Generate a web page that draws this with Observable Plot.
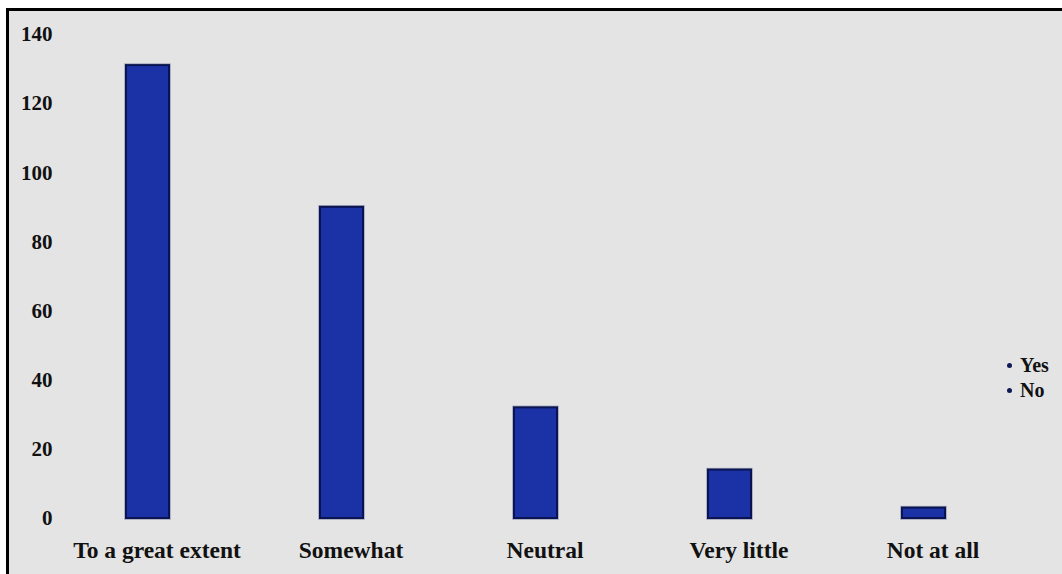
<!DOCTYPE html>
<html>
<head>
<meta charset="utf-8">
<script src="https://cdn.jsdelivr.net/npm/d3@7"></script>
<script src="https://cdn.jsdelivr.net/npm/@observablehq/plot@0.6"></script>
<style>
  html, body { margin: 0; padding: 0; background: #ffffff; }
  #panel {
    position: absolute; left: 6px; top: 8px;
    width: 1053px; height: 563px;
    background: #e4e4e4;
    border-left: 3px solid #000;
    border-top: 3px solid #000;
    overflow: hidden;
  }
  #panel svg { position: absolute; left: 0; top: 0; background: transparent; }
  .legend {
    position: absolute; left: 998px; top: 342px;
    font-family: "Liberation Serif", "Times New Roman", serif;
    font-weight: bold; font-size: 20px; color: #111;
    line-height: 25px;
  }
  .legend .item { display: flex; align-items: center; }
  .legend .dot {
    display: inline-block; width: 5px; height: 5px; border-radius: 50%;
    background: #0d1a55; margin-right: 8px;
  }
</style>
</head>
<body>
<div id="panel"></div>
<script>
// Responses per category
const categories = ["To a great extent", "Somewhat", "Neutral", "Very little", "Not at all"];
const counts = [131, 90, 32, 14, 3];
const seriesNames = ["Yes", "No"];
const yTicks = [0, 20, 40, 60, 80, 100, 120, 140];

const rows = categories.map((c, i) => ({category: c, count: counts[i]}));

const serif = "'Liberation Serif', 'Times New Roman', serif";

const chart = Plot.plot({
  width: 1053,
  height: 563,
  marginTop: 23,
  marginBottom: 56,
  marginLeft: 40,
  marginRight: 41,
  style: {background: "transparent", fontFamily: serif},
  x: {domain: categories, paddingInner: 0.779, paddingOuter: 0.3895, label: null},
  y: {domain: [0, 140], label: null},
  marks: [
    // light halo around each bar, then the bar with a dark edge
    Plot.barY(rows, {
      x: "category", y: "count",
      fill: "none", stroke: "#9aa0b8", strokeWidth: 3.5
    }),
    Plot.barY(rows, {
      x: "category", y: "count",
      fill: "#1a32a6", stroke: "#0a1450", strokeWidth: 2
    }),
    Plot.axisX({
      tickSize: 0, tickPadding: 23, dx: 9,
      fontSize: 23.5, fontWeight: "bold", fill: "#111", label: null
    }),
    Plot.axisY({
      ticks: yTicks, tickSize: 0, tickPadding: 0, dx: 3,
      fontSize: 21, fontWeight: "bold", fill: "#111", label: null
    })
  ]
});

const panel = document.getElementById("panel");
panel.appendChild(chart);

// Series key
const legend = document.createElement("div");
legend.className = "legend";
for (const name of seriesNames) {
  const item = document.createElement("div");
  item.className = "item";
  const dot = document.createElement("span");
  dot.className = "dot";
  item.appendChild(dot);
  item.appendChild(document.createTextNode(name));
  legend.appendChild(item);
}
panel.appendChild(legend);
</script>
</body>
</html>
